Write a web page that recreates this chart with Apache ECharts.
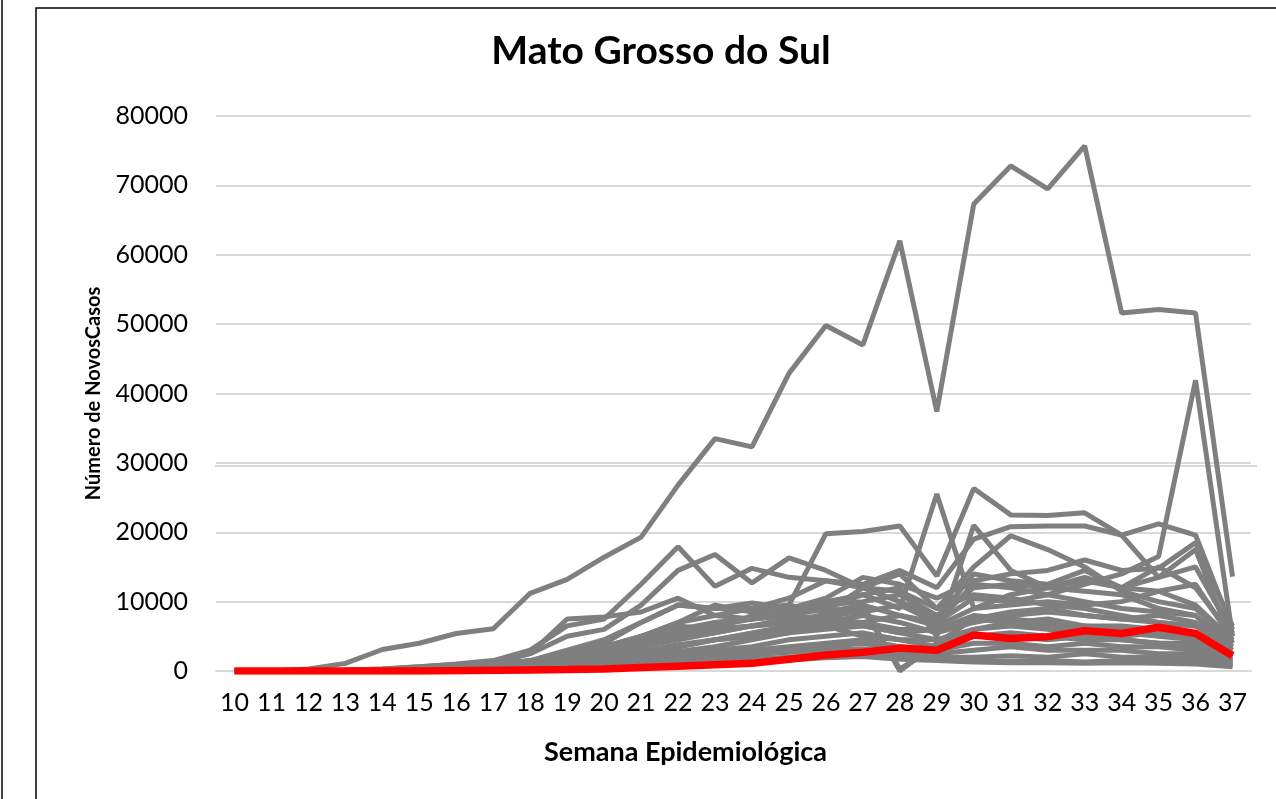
<!DOCTYPE html>
<html>
<head>
<meta charset="utf-8">
<title>Mato Grosso do Sul</title>
<script src="https://cdn.jsdelivr.net/npm/echarts@6.0.0/dist/echarts.min.js"></script>
<style>
	html, body { margin: 0; padding: 0; background: #fff; }
	#line-chart { width: 1276px; height: 799px; }
</style>
</head>
<body>
<div id="line-chart"></div>
<script>
	// semanas epidemiologicas
	var semanas = ['10','11','12','13','14','15','16','17','18','19','20','21','22','23','24','25','26','27','28','29','30','31','32','33','34','35','36','37'];

	// Mato Grosso do Sul (linha vermelha)
	var mtgSul = [0,0,0,0,0,0,50,100,150,200,300,500,700,900,1100,1700,2300,2700,3300,3000,5200,4700,4950,5800,5400,6300,5400,2200];

	// demais estados (linhas cinzas)
	var cinza1  = [0,0,300,1100,3100,4000,5400,6100,11200,13200,16400,19300,26800,33500,32300,42900,49800,47000,62000,37400,67300,72800,69500,75700,51600,52100,51600,13600];
	var cinza2  = [0,0,0,50,200,400,700,1000,1500,3000,4500,7000,9500,9000,9800,9000,8500,9500,8000,7000,12500,12000,11000,12500,14000,16500,41900,5000];
	var cinza3  = [0,0,0,100,300,600,1000,1500,3000,6500,7500,12500,17900,12200,14800,13500,13000,12000,11500,9000,11000,10500,9500,9000,8000,7000,6500,4000];
	var cinza4  = [0,0,0,50,200,400,700,1200,2500,5000,6000,9500,14500,16800,12700,16300,14500,12000,10000,7500,14000,13000,12500,14500,12000,15000,12000,5000];
	var cinza5  = [0,0,0,50,100,300,500,800,1500,2500,4000,7000,9500,9000,9000,9500,19800,20100,20900,13700,26300,22500,22400,22800,19600,13500,15000,5500];
	var cinza6  = [0,0,0,20,100,200,400,700,1200,2500,3500,5000,7000,8000,9000,10500,13000,12500,14500,12000,19000,20800,20900,20900,19600,21200,19600,6000];
	var cinza7  = [0,0,0,0,50,150,300,500,1000,2000,3000,4500,6000,6500,7500,8500,10000,11000,9000,25500,9000,11000,12000,13500,12000,13500,17500,4000];
	var cinza8  = [0,0,0,0,50,150,300,500,800,1500,2500,4000,5500,7000,7500,8000,9000,11000,12000,5000,21000,14500,12000,11500,11000,9000,8000,3500];
	var cinza9  = [0,0,0,0,50,100,200,400,700,1200,2000,3500,4500,5500,6500,7000,8000,9500,0,4000,7500,8500,9000,8000,7500,7000,6500,3000];
	var cinza10 = [0,0,0,0,20,80,150,300,500,900,1500,2500,3500,4500,5500,6500,7500,9000,300,3500,6000,7000,6500,6000,5500,5000,4500,2500];
	var cinza11 = [0,0,0,0,50,100,300,600,1000,2000,3500,5000,6500,6000,8000,9500,8500,12000,14000,9000,15000,19500,17500,15000,11500,10000,9000,4500];
	var cinza12 = [0,0,0,0,30,100,200,400,800,1500,2500,4500,7000,9500,8500,9000,10500,13500,12500,10500,13000,14000,14500,16000,14500,14800,18500,6500];
	var cinza13 = [0,0,0,0,20,60,150,300,600,1200,2000,3500,5000,6000,6500,7000,7500,7000,8000,6500,9000,9500,10000,9500,10000,11500,12500,4500];
	var cinza14 = [0,0,0,0,20,60,120,250,500,900,1500,2500,3500,4500,5000,5500,6500,7000,6000,6000,7500,7000,7500,6500,6500,6000,5500,3000];
	var cinza15 = [0,0,0,0,10,40,100,200,400,800,1200,2000,2800,3500,4500,5500,6000,6500,5500,4500,6000,6500,6000,6000,5000,5500,5000,2500];
	var cinza16 = [0,0,0,0,10,30,80,150,300,600,1000,1800,2500,3000,3500,4500,5000,5500,4500,3500,5000,5000,4500,5000,4500,4000,4000,2000];
	var cinza17 = [0,0,0,0,10,30,60,120,250,500,800,1500,2000,2500,3000,3500,4000,4500,3500,3000,4000,4000,3500,4000,3500,3500,3000,1500];
	var cinza18 = [0,0,0,0,5,20,50,100,200,400,700,1200,1800,2200,2800,3200,3500,4000,3000,2500,3000,3500,3000,3000,3000,2500,2500,1200];
	var cinza19 = [0,0,0,0,5,20,40,80,150,300,500,900,1400,1800,2300,2700,3000,3200,2500,2000,2000,2200,2000,2500,2000,2000,1800,1000];
	var cinza20 = [0,0,0,0,5,10,30,60,120,250,400,700,1000,1300,1700,2000,2300,2500,2000,1800,1500,1400,1500,1300,1500,1400,1300,800];
	var cinza21 = [0,0,0,0,0,10,20,40,80,150,300,500,800,1000,1300,1600,1900,2100,1700,1500,1300,1200,1200,1100,1200,1100,1000,600];
	var cinza22 = [0,0,0,0,30,100,200,400,800,1500,2800,4500,6000,7000,7500,8500,9500,10000,11000,8000,12000,12500,12000,13000,12000,11500,9500,4500];
	var cinza23 = [0,0,0,0,20,80,150,300,600,1200,2200,3500,4800,5500,6500,7500,8000,8500,9500,7000,10500,10000,11000,10000,9000,8500,8000,4000];
	var cinza24 = [0,0,0,100,300,600,900,1200,2500,7500,7800,8500,10500,8000,7500,8000,7000,6500,5500,6000,8000,7500,7000,6500,6000,5500,5000,2500];
	var cinza25 = [0,0,0,0,20,60,150,300,700,1500,3000,5000,5500,6000,6500,7500,6500,5000,4500,4500,5000,5500,5000,4500,4500,4000,3500,2000];
	var cinza26 = [0,0,0,0,10,40,100,200,500,1000,1800,2800,3800,4500,5000,6000,7000,8000,7000,5500,7000,8000,8500,8000,7500,8000,7000,3500];

	var outros = [cinza1,cinza2,cinza3,cinza4,cinza5,cinza6,cinza7,cinza8,cinza9,cinza10,cinza11,cinza12,cinza13,
		cinza14,cinza15,cinza16,cinza17,cinza18,cinza19,cinza20,cinza21,cinza22,cinza23,cinza24,cinza25,cinza26];

	var lineChart = echarts.init(document.getElementById('line-chart'));
	var fonte = 'Lato, "Open Sans", sans-serif';

	var series = [];
	for (var i = 0; i < outros.length; i++) {
		series.push({
			name: 'cinza' + (i + 1),
			type: 'line',
			data: outros[i],
			symbol: 'none',
			lineStyle: { color: '#7f7f7f', width: 5 }
		});
	}
	series.push({
		name: 'Mato Grosso do Sul',
		type: 'line',
		data: mtgSul,
		symbol: 'none',
		z: 5,
		lineStyle: { color: '#ff0000', width: 7.5 }
	});

	lineChart.setOption({
		animation: false,
		backgroundColor: '#fff',
		textStyle: { fontFamily: fonte },
		title: {
			text: 'Mato Grosso do Sul',
			left: 656,
			textAlign: 'center',
			top: 27,
			textStyle: { fontFamily: fonte, fontSize: 39, fontWeight: 'bold', color: '#000' }
		},
		grid: { // area do grafico
			left: 216,
			right: 25,
			top: 116,
			bottom: 128
		},
		xAxis: {
			type: 'category',
			data: semanas,
			boundaryGap: true,
			name: 'Semana Epidemiológica',
			nameLocation: 'middle',
			nameGap: 68,
			nameTextStyle: { fontFamily: fonte, fontSize: 27, fontWeight: 'bold', color: '#000', padding: [0, 96, 0, 0] },
			axisLine: { lineStyle: { color: '#d9d9d9', width: 2 } },
			axisTick: { show: false },
			axisLabel: { interval: 0, fontSize: 25, color: '#000', margin: 19, fontFamily: fonte }
		},
		yAxis: {
			type: 'value',
			min: 0,
			max: 80000,
			interval: 10000,
			name: 'Número de NovosCasos',
			nameLocation: 'middle',
			nameGap: 112,
			nameTextStyle: { fontFamily: fonte, fontSize: 20, fontWeight: 'bold', color: '#000' },
			axisLine: { show: false },
			axisTick: { show: false },
			axisLabel: {
				fontSize: 25, color: '#000', margin: 28, fontFamily: fonte,
				formatter: function (v) { return String(v); }
			},
			splitLine: { lineStyle: { color: '#d9d9d9', width: 2 } }
		},
		graphic: [
			{ type: 'line', shape: { x1: 2, y1: 0, x2: 2, y2: 799 }, style: { stroke: '#404040', lineWidth: 2 } },
			{ type: 'rect', shape: { x: 36, y: 8, width: 1300, height: 900 }, style: { fill: null, stroke: '#000', lineWidth: 1.5 } },
			{ type: 'line', shape: { x1: 215, y1: 466, x2: 1257, y2: 466 }, style: { stroke: '#d9d9d9', lineWidth: 2 } }
		],
		series: series
	});
</script>
</body>
</html>
